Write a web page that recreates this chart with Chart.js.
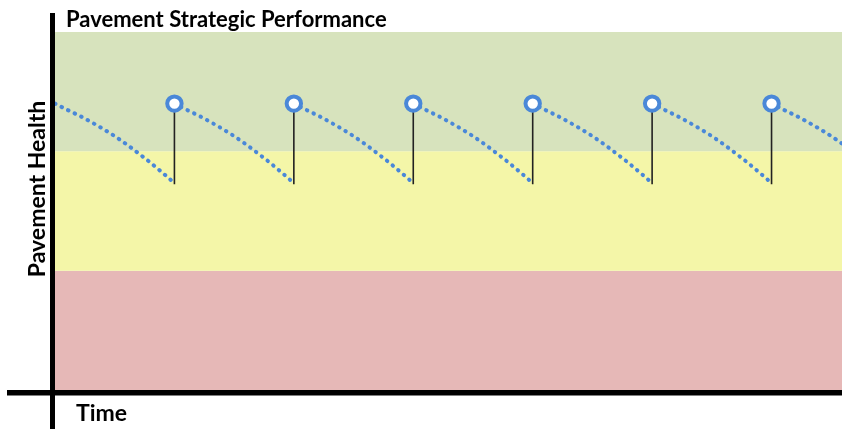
<!DOCTYPE html>
<html>
<head>
<meta charset="utf-8">
<title>Pavement Strategic Performance</title>
<script src="https://cdn.jsdelivr.net/npm/chart.js@4.4.0/dist/chart.umd.min.js"></script>
<style>
    html, body { margin: 0; padding: 0; background: #fff; }
    #wrap { width: 842px; height: 429px; }
</style>
</head>
<body>
<div id="wrap">
    <canvas id="perfChart" width="842" height="429"></canvas>
</div>
<script>

// time axis (years); the jump back to good health happens at each treatment
const years = [
    0, 1, 2, 3, 4, 5, 6, 7, 8, 9, 10,
    10, 11, 12, 13, 14, 15, 16, 17, 18, 19, 20,
    20, 21, 22, 23, 24, 25, 26, 27, 28, 29, 30,
    30, 31, 32, 33, 34, 35, 36, 37, 38, 39, 40,
    40, 41, 42, 43, 44, 45, 46, 47, 48, 49, 50,
    50, 51, 52, 53, 54, 55, 56, 57, 58, 59, 60,
    60, 61, 62, 63, 64, 65, 66
];

// pavement health (0 - 100)
const health = [
    80, 78.3, 76.7, 74.9, 73.0, 70.9, 68.6, 66.1, 63.5, 60.7, 57.8,
    80, 78.3, 76.7, 74.9, 73.0, 70.9, 68.6, 66.1, 63.5, 60.7, 57.8,
    80, 78.3, 76.7, 74.9, 73.0, 70.9, 68.6, 66.1, 63.5, 60.7, 57.8,
    80, 78.3, 76.7, 74.9, 73.0, 70.9, 68.6, 66.1, 63.5, 60.7, 57.8,
    80, 78.3, 76.7, 74.9, 73.0, 70.9, 68.6, 66.1, 63.5, 60.7, 57.8,
    80, 78.3, 76.7, 74.9, 73.0, 70.9, 68.6, 66.1, 63.5, 60.7, 57.8,
    80, 78.3, 76.7, 74.9, 73.0, 70.9, 68.6
];

// treatments: health just before and just after
const treatmentYears = [10, 20, 30, 40, 50, 60];
const healthBefore = [57.5, 57.5, 57.5, 57.5, 57.5, 57.5];
const healthAfter = [80, 80, 80, 80, 80, 80];

// condition bands (poor / fair / good)
const bandEdges = [0, 33.3, 66.7, 100];
const bandColors = ['#e6b8b7', '#f4f6a8', '#d7e3bd'];

const blue = '#4a88d8';

const curvePoints = years.map((x, i) => ({ x: x, y: health[i] }));

const stemPoints = [];
treatmentYears.forEach((x, i) => {
    stemPoints.push({ x: x, y: healthBefore[i] });
    stemPoints.push({ x: x, y: healthAfter[i] });
    stemPoints.push({ x: x, y: null });
});

const markerPoints = treatmentYears.map((x, i) => ({ x: x, y: healthAfter[i] }));

const bandsPlugin = {
    id: 'bands',
    beforeDatasetsDraw(chart) {
        const { ctx, chartArea, scales } = chart;
        ctx.save();
        for (let i = 0; i < bandColors.length; i++) {
            const top = scales.y.getPixelForValue(bandEdges[i + 1]);
            const bottom = scales.y.getPixelForValue(bandEdges[i]);
            ctx.fillStyle = bandColors[i];
            ctx.fillRect(chartArea.left, top, chartArea.right - chartArea.left, bottom - top);
        }
        ctx.restore();
    }
};

const framePlugin = {
    id: 'frame',
    afterDraw(chart) {
        const { ctx, chartArea } = chart;
        ctx.save();
        ctx.fillStyle = '#000';
        // axes: thick black cross
        ctx.fillRect(chartArea.left - 5, 13, 5, chart.height - 13);
        ctx.fillRect(7, chartArea.bottom, chart.width - 7, 5.5);

        ctx.fillStyle = '#000';
        ctx.textBaseline = 'alphabetic';
        ctx.font = 'bold 22px Lato';
        ctx.textAlign = 'left';
        ctx.fillText('Pavement Strategic Performance', 66, 27);

        ctx.font = 'bold 23px Lato';
        ctx.fillText('Time', 76, 421);

        ctx.translate(45, 189);
        ctx.rotate(-Math.PI / 2);
        ctx.textAlign = 'center';
        ctx.fillText('Pavement Health', 0, 0);
        ctx.restore();
    }
};

const ctx = document.getElementById('perfChart').getContext('2d');

new Chart(ctx, {
    type: 'line',
    data: {
        datasets: [
            {
                label: 'Treatment',
                data: markerPoints,
                showLine: false,
                pointRadius: 7.2,
                pointBorderWidth: 4,
                pointBackgroundColor: '#fff',
                pointBorderColor: blue,
                order: 0
            },
            {
                label: 'Health',
                data: curvePoints,
                borderColor: blue,
                borderWidth: 4,
                borderDash: [0.5, 6.8],
                borderCapStyle: 'round',
                pointRadius: 0,
                tension: 0,
                segment: {
                    borderColor: c => c.p0.parsed.x === c.p1.parsed.x ? 'rgba(0,0,0,0)' : blue
                },
                order: 1
            },
            {
                label: 'Stem',
                data: stemPoints,
                borderColor: '#222',
                borderWidth: 1.6,
                pointRadius: 0,
                spanGaps: false,
                order: 2
            }
        ]
    },
    options: {
        responsive: false,
        animation: false,
        layout: { autoPadding: false, padding: { left: 55, right: 0, top: 32, bottom: 39 } },
        scales: {
            x: { type: 'linear', min: 0, max: 65.9, display: false },
            y: { type: 'linear', min: 0, max: 100, display: false }
        },
        plugins: {
            legend: { display: false },
            tooltip: { enabled: false }
        }
    },
    plugins: [bandsPlugin, framePlugin]
});

</script>
</body>
</html>
